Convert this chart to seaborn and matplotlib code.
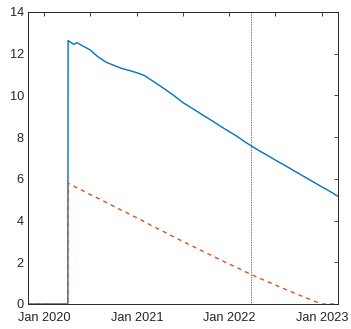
import matplotlib
matplotlib.use("Agg")
import matplotlib.pyplot as plt
import matplotlib.dates as mdates
import matplotlib.ticker as mticker
import numpy as np
import pandas as pd
import seaborn as sns

# Series A (solid blue)
dates_a = ["2019-10-30", "2020-04-04", "2020-04-05", "2020-04-28", "2020-05-10",
           "2020-06-01", "2020-07-01", "2020-08-01", "2020-09-01", "2020-10-01",
           "2020-11-01", "2020-12-01", "2021-01-01", "2021-02-01", "2021-03-01",
           "2021-04-01", "2021-05-01", "2021-06-01", "2021-07-01", "2021-08-01",
           "2021-09-01", "2021-10-01", "2021-11-01", "2021-12-01", "2022-01-01",
           "2022-02-01", "2022-03-01", "2022-04-01", "2022-05-01", "2022-06-01",
           "2022-07-01", "2022-08-01", "2022-09-01", "2022-10-01", "2022-11-01",
           "2022-12-01", "2023-01-01", "2023-02-01", "2023-03-05"]
values_a = [0.0, 0.0, 12.63, 12.45, 12.53,
            12.38, 12.18, 11.85, 11.60, 11.45,
            11.30, 11.20, 11.09, 10.95, 10.72,
            10.47, 10.22, 9.95, 9.66, 9.43,
            9.19, 8.96, 8.73, 8.49, 8.26,
            8.03, 7.79, 7.55, 7.33, 7.12,
            6.90, 6.69, 6.47, 6.26, 6.04,
            5.83, 5.61, 5.40, 5.16]

# Series B (dashed orange)
dates_b = ["2019-10-30", "2020-04-04", "2020-04-05", "2020-05-01", "2020-06-01",
           "2020-07-01", "2020-08-01", "2020-09-01", "2020-10-01", "2020-11-01",
           "2020-12-01", "2021-01-01", "2021-02-01", "2021-03-01", "2021-04-01",
           "2021-05-01", "2021-06-01", "2021-07-01", "2021-08-01", "2021-09-01",
           "2021-10-01", "2021-11-01", "2021-12-01", "2022-01-01", "2022-02-01",
           "2022-03-01", "2022-04-01", "2022-05-01", "2022-06-01", "2022-07-01",
           "2022-08-01", "2022-09-01", "2022-10-01", "2022-11-01", "2022-12-01",
           "2023-01-01", "2023-02-01", "2023-03-05"]
values_b = [0.0, 0.0, 5.79, 5.63, 5.44,
            5.25, 5.07, 4.88, 4.69, 4.50,
            4.32, 4.13, 3.94, 3.75, 3.57,
            3.38, 3.19, 3.00, 2.82, 2.63,
            2.45, 2.27, 2.09, 1.91, 1.74,
            1.57, 1.39, 1.23, 1.07, 0.91,
            0.75, 0.59, 0.44, 0.29, 0.14,
            0.0, 0.0, 0.0]

marker_date = "2022-03-29"
x_range = ("2019-10-30", "2023-03-05")
tick_dates = ["2020-01-01", "2020-07-01", "2021-01-01", "2021-07-01",
              "2022-01-01", "2022-07-01", "2023-01-01"]
tick_labels = ["Jan 2020", "", "Jan 2021", "", "Jan 2022", "", "Jan 2023"]
y_ticks = [0, 2, 4, 6, 8, 10, 12, 14]

df_a = pd.DataFrame({"date": pd.to_datetime(dates_a), "value": values_a})
df_b = pd.DataFrame({"date": pd.to_datetime(dates_b), "value": values_b})

sns.set_style("white")
plt.rcParams["font.family"] = ["Liberation Sans", "DejaVu Sans"]

fig = plt.figure(figsize=(3.51, 3.29), dpi=100)
ax = fig.add_axes([28 / 351, 25 / 329, 310 / 351, 292 / 329])

sns.lineplot(data=df_a, x="date", y="value", ax=ax, color="#0072BD",
             linewidth=1.0, estimator=None, sort=False)
sns.lineplot(data=df_b, x="date", y="value", ax=ax, color="#D95319",
             linewidth=1.0, linestyle=(0, (3, 3)), estimator=None, sort=False)

ax.axvline(pd.Timestamp(marker_date), color="#444444", linewidth=0.6,
           linestyle=(0, (1, 1)))

ax.set_xlim(pd.Timestamp(x_range[0]), pd.Timestamp(x_range[1]))
ax.set_ylim(0, 14)
ax.xaxis.set_major_locator(mticker.FixedLocator(
    [mdates.date2num(pd.Timestamp(d)) for d in tick_dates]))
ax.xaxis.set_major_formatter(mticker.FixedFormatter(tick_labels))
ax.set_yticks(y_ticks)
ax.set_yticklabels([str(v) for v in y_ticks])
ax.set_xlabel("")
ax.set_ylabel("")

ax.tick_params(direction="in", top=True, right=True, length=3, width=0.6,
               colors="#262626", labelsize=9.2)
ax.tick_params(axis="x", pad=6)
ax.tick_params(axis="y", pad=3)
for s in ax.spines.values():
    s.set_color("#262626")
    s.set_linewidth(0.7)

fig.savefig("out.png", dpi=100)
